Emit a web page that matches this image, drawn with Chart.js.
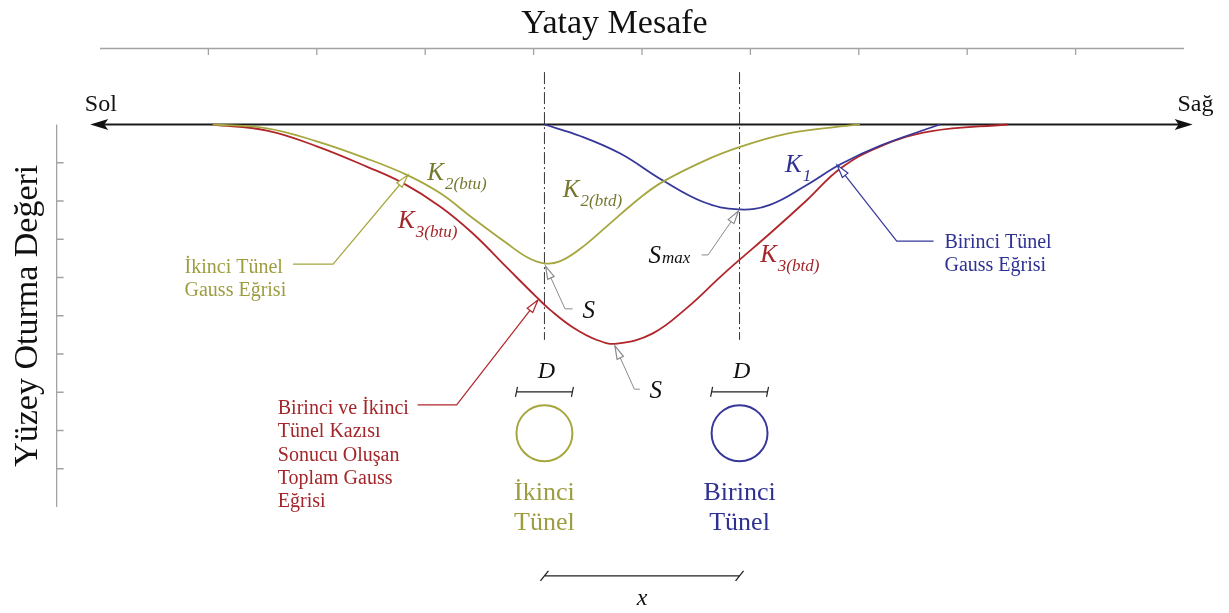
<!DOCTYPE html>
<html>
<head>
<meta charset="utf-8">
<script src="https://cdn.jsdelivr.net/npm/chart.js@4/dist/chart.umd.min.js"></script>
<style>
  html, body { margin: 0; padding: 0; background: #fff; }
  #wrap { width: 1229px; height: 613px; position: relative; }
</style>
</head>
<body>
<div id="wrap"><canvas id="gaussChart"></canvas></div>
<script>
// eksen tikleri (yatay mesafe / oturma birimleri)
const xTicks = [1, 2, 3, 4, 5, 6, 7, 8, 9];
const yTicks = [1, 2, 3, 4, 5, 6, 7, 8, 9];

// tünel eksenleri
const tunnelNames = ["İkinci", "Birinci"];
const tunnelX = [4.1, 5.9];

// İkinci tünel Gauss eğrisi (K2)
const k2X = [1.04, 1.54, 2.0, 2.46, 2.84, 3.14, 3.44, 3.75, 3.94, 4.1, 4.24, 4.43, 4.68, 4.98, 5.19, 5.56, 5.89, 6.34, 6.83, 7.01];
const k2Y = [0, 0.1, 0.44, 0.89, 1.33, 1.8, 2.45, 3.1, 3.47, 3.63, 3.58, 3.25, 2.65, 1.92, 1.5, 0.97, 0.6, 0.24, 0.05, 0];

// Birinci tünel Gauss eğrisi (K1)
const k1X = [4.1, 4.43, 4.8, 5.19, 5.56, 5.89, 6.18, 6.52, 6.83, 7.2, 7.75];
const k1Y = [0, 0.3, 0.76, 1.46, 2.02, 2.22, 2.1, 1.58, 1.04, 0.55, 0];

// toplam Gauss eğrisi (K3)
const k3X = [1.04, 1.54, 2.0, 2.46, 2.8, 3.14, 3.44, 3.75, 4.03, 4.15, 4.36, 4.59, 4.77, 5.1, 5.42, 5.72, 5.89, 6.18, 6.52, 6.83, 7.2, 7.66, 8.37];
const k3Y = [0, 0.16, 0.57, 1.1, 1.54, 2.15, 2.85, 3.73, 4.52, 4.84, 5.3, 5.64, 5.73, 5.46, 4.78, 3.99, 3.56, 2.85, 1.98, 1.15, 0.57, 0.18, 0];

const OLIVE = "#a6a63e";
const OLIVE_TXT = "#9d9d40";
const OLIVE_K = "#76782f";
const RED = "#b0262a";
const RED_TXT = "#a3262a";
const BLUE = "#37379a";
const BLUE_TXT = "#2e3192";
const GREY = "#8a8a8a";
const SERIF = '"Liberation Serif", "Times New Roman", serif';

function toPoints(xs, ys) {
  return xs.map((v, i) => ({ x: v, y: ys[i] }));
}

// açıklama çizgileri (metin + kırık çizgi + açık ok)
const callouts = [
  { lines: ["İkinci Tünel", "Gauss Eğrisi"], color: OLIVE_TXT, line: OLIVE, at: [0.78, 3.88], path: [[1.78, 3.65], [2.15, 3.65], [2.84, 1.32]] },
  { lines: ["Birinci Tünel", "Gauss Eğrisi"], color: BLUE_TXT, line: BLUE, at: [7.79, 3.23], path: [[7.69, 3.05], [7.35, 3.05], [6.8, 1.06]] },
  { lines: ["Birinci ve İkinci", "Tünel Kazısı", "Sonucu Oluşan", "Toplam Gauss", "Eğrisi"], color: RED_TXT, line: RED, at: [1.64, 7.57], path: [[2.93, 7.33], [3.29, 7.33], [4.04, 4.59]] },
];
const greyLeaders = [
  [[4.36, 4.82], [4.29, 4.82], [4.11, 3.7]],
  [[4.98, 6.92], [4.93, 6.92], [4.75, 5.79]],
  [[5.55, 3.41], [5.61, 3.41], [5.89, 2.26]],
];
const kLabels = [
  { main: "K", sub: "2(btu)", at: [3.02, 1.45], color: OLIVE_K },
  { main: "K", sub: "3(btu)", at: [2.75, 2.71], color: RED_TXT },
  { main: "K", sub: "2(btd)", at: [4.27, 1.9], color: OLIVE_K },
  { main: "K", sub: "1", at: [6.32, 1.24], color: BLUE_TXT },
  { main: "K", sub: "3(btd)", at: [6.09, 3.6], color: RED_TXT },
  { main: "S", sub: "max", at: [5.06, 3.62], color: "#111", drop: 0 },
  { main: "S", sub: "", at: [4.45, 5.06], color: "#111" },
  { main: "S", sub: "", at: [5.07, 7.15], color: "#111" },
];

function openArrow(ctx, fx, fy, tx, ty, color) {
  const a = Math.atan2(ty - fy, tx - fx);
  const len = 13, half = 3.5;
  const bx = tx - len * Math.cos(a), by = ty - len * Math.sin(a);
  ctx.beginPath();
  ctx.moveTo(tx, ty);
  ctx.lineTo(bx + half * Math.sin(a), by - half * Math.cos(a));
  ctx.lineTo(bx - half * Math.sin(a), by + half * Math.cos(a));
  ctx.closePath();
  ctx.fillStyle = "#fff";
  ctx.fill();
  ctx.strokeStyle = color;
  ctx.lineWidth = 1.2;
  ctx.stroke();
}

const sketchPlugin = {
  id: "sketch",
  beforeDatasetsDraw(chart) {
    const { ctx, scales: { x, y } } = chart;
    const X = (v) => x.getPixelForValue(v);
    const Y = (v) => y.getPixelForValue(v);
    ctx.save();

    // üst ve sol eksen
    ctx.strokeStyle = "#a3a3a3";
    ctx.lineWidth = 1.3;
    ctx.beginPath();
    ctx.moveTo(X(0), Y(-2) + 0.5);
    ctx.lineTo(X(10), Y(-2) + 0.5);
    xTicks.forEach((t) => {
      ctx.moveTo(X(t), Y(-2));
      ctx.lineTo(X(t), Y(-2) + 7);
    });
    const ax = X(-0.4);
    ctx.moveTo(ax, Y(0));
    ctx.lineTo(ax, Y(10));
    yTicks.forEach((t) => {
      ctx.moveTo(ax, Y(t));
      ctx.lineTo(ax + 7, Y(t));
    });
    ctx.stroke();

    // tünel eksenleri (kesik-noktalı)
    ctx.strokeStyle = "#333";
    ctx.lineWidth = 1;
    ctx.setLineDash([12, 3, 2, 3]);
    tunnelX.forEach((t) => {
      ctx.beginPath();
      ctx.moveTo(X(t), Y(-1.37));
      ctx.lineTo(X(t), Y(5.63));
      ctx.stroke();
    });
    ctx.setLineDash([]);

    // yüzey çizgisi, iki yönlü ok
    const l = X(-0.09), r = X(10.08), y0 = Y(0);
    ctx.strokeStyle = "#1a1a1a";
    ctx.lineWidth = 2;
    ctx.beginPath();
    ctx.moveTo(l + 10, y0);
    ctx.lineTo(r - 10, y0);
    ctx.stroke();
    ctx.fillStyle = "#111";
    ctx.beginPath();
    ctx.moveTo(l, y0); ctx.lineTo(l + 18, y0 - 5.5); ctx.lineTo(l + 14, y0); ctx.lineTo(l + 18, y0 + 5.5); ctx.closePath();
    ctx.fill();
    ctx.beginPath();
    ctx.moveTo(r, y0); ctx.lineTo(r - 18, y0 - 5.5); ctx.lineTo(r - 14, y0); ctx.lineTo(r - 18, y0 + 5.5); ctx.closePath();
    ctx.fill();
    ctx.restore();
  },
  afterDraw(chart) {
    const { ctx, scales: { x, y } } = chart;
    const X = (v) => x.getPixelForValue(v);
    const Y = (v) => y.getPixelForValue(v);
    ctx.save();
    ctx.textBaseline = "alphabetic";

    // başlıklar
    ctx.fillStyle = "#111";
    ctx.font = `34px ${SERIF}`;
    ctx.textAlign = "center";
    ctx.fillText("Yatay Mesafe", chart.width / 2, 33);
    ctx.save();
    ctx.translate(37, (Y(0) + Y(10)) / 2);
    ctx.rotate(-Math.PI / 2);
    ctx.fillText("Yüzey Oturma Değeri", 0, 0);
    ctx.restore();

    ctx.textAlign = "left";
    ctx.font = `24px ${SERIF}`;
    ctx.fillText("Sol", X(-0.14), Y(-0.36));
    ctx.fillText("Sağ", X(9.94), Y(-0.36));

    // açıklamalar
    callouts.forEach((c) => {
      const p = c.path.map(([a, b]) => [X(a), Y(b)]);
      ctx.strokeStyle = c.line;
      ctx.lineWidth = 1.2;
      ctx.beginPath();
      ctx.moveTo(p[0][0], p[0][1]);
      ctx.lineTo(p[1][0], p[1][1]);
      ctx.lineTo(p[2][0], p[2][1]);
      ctx.stroke();
      openArrow(ctx, p[1][0], p[1][1], p[2][0], p[2][1], c.line);
      ctx.fillStyle = c.color;
      ctx.font = `20px ${SERIF}`;
      c.lines.forEach((t, i) => ctx.fillText(t, X(c.at[0]), Y(c.at[1]) + i * 23.3));
    });
    greyLeaders.forEach((g) => {
      const p = g.map(([a, b]) => [X(a), Y(b)]);
      ctx.strokeStyle = GREY;
      ctx.lineWidth = 1;
      ctx.beginPath();
      ctx.moveTo(p[0][0], p[0][1]);
      ctx.lineTo(p[1][0], p[1][1]);
      ctx.lineTo(p[2][0], p[2][1]);
      ctx.stroke();
      openArrow(ctx, p[1][0], p[1][1], p[2][0], p[2][1], GREY);
    });

    // eğri etiketleri
    kLabels.forEach((k) => {
      const px = X(k.at[0]), py = Y(k.at[1]);
      ctx.fillStyle = k.color;
      ctx.font = `italic 25px ${SERIF}`;
      ctx.fillText(k.main, px, py);
      const w = ctx.measureText(k.main).width;
      if (k.sub) {
        ctx.font = `italic 17px ${SERIF}`;
        ctx.fillText(k.sub, px + w + 1, py + (k.drop === undefined ? 9 : k.drop));
      }
    });

    // tüneller: D ölçüsü, daire ve isim
    const r = X(tunnelX[0] + 0.258) - X(tunnelX[0]);
    const colors = [OLIVE, BLUE];
    const txtColors = [OLIVE_TXT, BLUE_TXT];
    tunnelX.forEach((t, i) => {
      const cx = X(t), cy = Y(8.07);
      ctx.fillStyle = "#111";
      ctx.textAlign = "center";
      ctx.font = `italic 24px ${SERIF}`;
      ctx.fillText("D", cx + 2, Y(6.63));
      const by = Y(6.99);
      ctx.strokeStyle = "#222";
      ctx.lineWidth = 1.2;
      ctx.beginPath();
      ctx.moveTo(cx - r, by); ctx.lineTo(cx + r, by);
      ctx.moveTo(cx - r - 1, by + 5); ctx.lineTo(cx - r + 1, by - 5);
      ctx.moveTo(cx + r - 1, by + 5); ctx.lineTo(cx + r + 1, by - 5);
      ctx.stroke();
      ctx.strokeStyle = colors[i];
      ctx.lineWidth = 2;
      ctx.beginPath();
      ctx.arc(cx, cy, r, 0, Math.PI * 2);
      ctx.stroke();
      ctx.fillStyle = txtColors[i];
      ctx.font = `26px ${SERIF}`;
      ctx.fillText(tunnelNames[i], cx, cy + 67);
      ctx.fillText("Tünel", cx, cy + 97);
    });

    // x ölçüsü
    const xa = X(tunnelX[0]), xb = X(tunnelX[1]), xy = Y(11.8);
    ctx.strokeStyle = "#222";
    ctx.lineWidth = 1.3;
    ctx.beginPath();
    ctx.moveTo(xa, xy); ctx.lineTo(xb, xy);
    ctx.moveTo(xa - 4, xy + 5); ctx.lineTo(xa + 4, xy - 5);
    ctx.moveTo(xb - 4, xy + 5); ctx.lineTo(xb + 4, xy - 5);
    ctx.stroke();
    ctx.fillStyle = "#111";
    ctx.textAlign = "center";
    ctx.font = `italic 24px ${SERIF}`;
    ctx.fillText("x", (xa + xb) / 2, xy + 29);
    ctx.restore();
  },
};

new Chart(document.getElementById("gaussChart"), {
  type: "scatter",
  data: {
    datasets: [
      { label: "K2", data: toPoints(k2X, k2Y), borderColor: OLIVE },
      { label: "K1", data: toPoints(k1X, k1Y), borderColor: BLUE },
      { label: "K3", data: toPoints(k3X, k3Y), borderColor: RED },
    ],
  },
  options: {
    responsive: true,
    maintainAspectRatio: false,
    animation: false,
    showLine: true,
    layout: { padding: { left: 100, right: 45, top: 48, bottom: 106 } },
    elements: {
      point: { radius: 0, hoverRadius: 0 },
      line: { borderWidth: 1.8, tension: 0.4, fill: false },
    },
    scales: {
      x: { type: "linear", min: 0, max: 10, display: false },
      y: { type: "linear", min: -2, max: 10, reverse: true, display: false },
    },
    plugins: { legend: { display: false }, tooltip: { enabled: false } },
  },
  plugins: [sketchPlugin],
});
</script>
</body>
</html>
